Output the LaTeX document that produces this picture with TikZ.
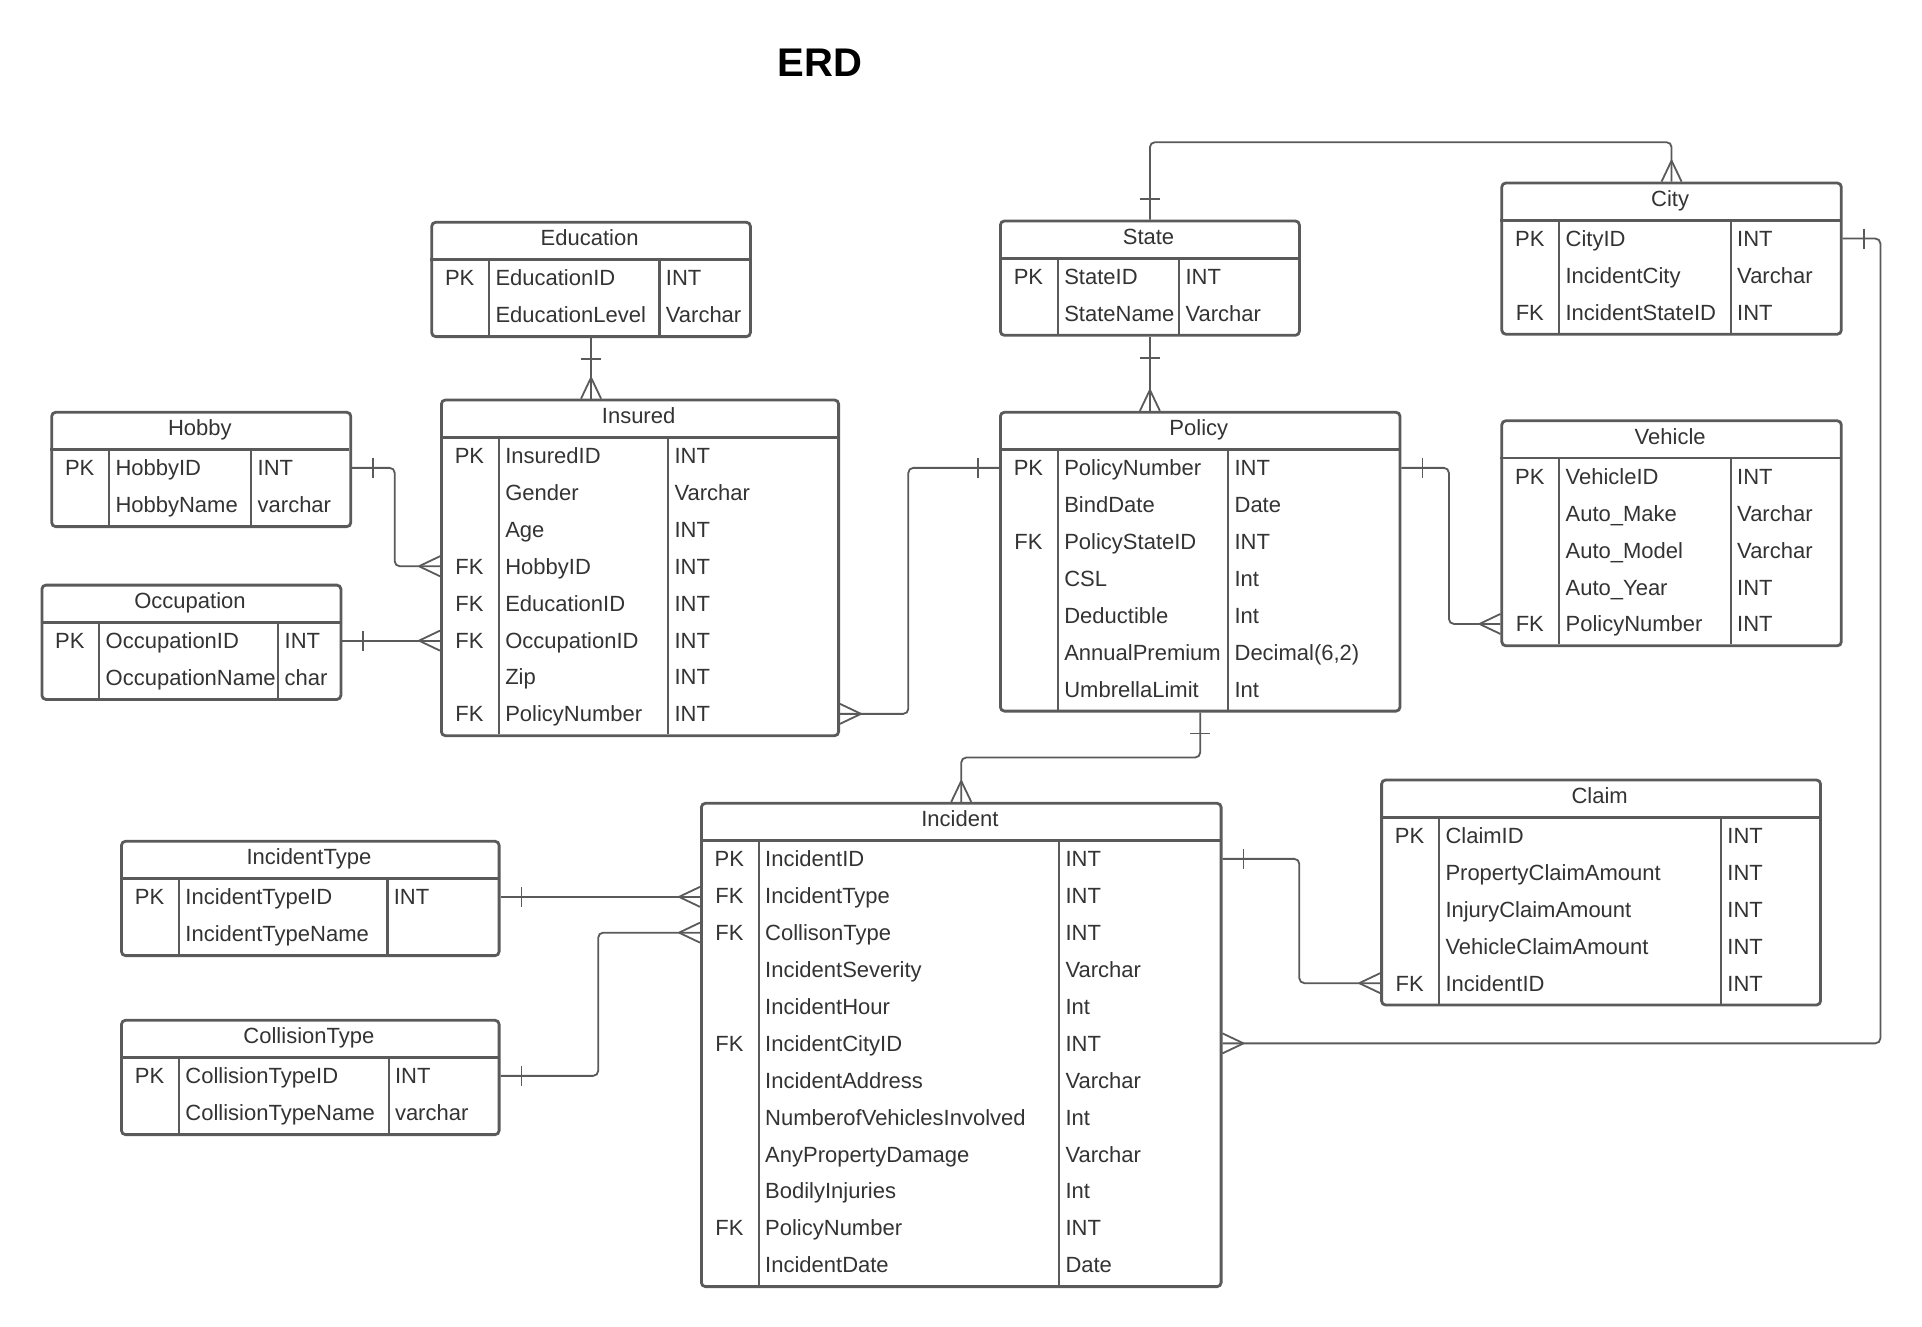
\documentclass[tikz,border=0pt]{standalone}
\usepackage{fontspec}
\setmainfont{Liberation Sans}
\usetikzlibrary{calc}

\definecolor{framecol}{HTML}{5A5A5A}
\definecolor{textcol}{HTML}{333333}

\tikzset{
  tablebox/.style={draw=framecol, line width=1.4pt, rounded corners=2pt, inner sep=0pt},
  headrule/.style={draw=framecol, line width=1.4pt},
  colrule/.style={draw=framecol, line width=1.1pt},
  celltext/.style={inner sep=0pt, text=textcol, font=\fontsize{11}{13}\selectfont,
                   text height=8pt, text depth=0pt},
  link/.style={draw=framecol, line width=0.9pt, rounded corners=2.5pt},
  erdmark/.style={draw=framecol, line width=0.9pt},
  % crow's foot (many) and single bar (one); the line leaves the box along +x
  crow/.pic={\draw[erdmark] (21,0) -- (0,10) (21,0) -- (0,-10);},
  onebar/.pic={\draw[erdmark] (21,-10) -- (21,10);},
}

% #1 name, #2 left, #3 right, #4 top, #5 key|field rule, #6 field|type rule,
% #7 number of rows, #8 title, #9 rows as key/field/type
\newcommand\erdtable[9]{%
  \pgfmathsetmacro\tw{(#3-#2)*0.5}%
  \pgfmathsetmacro\th{(38.5+#7*36.9+2)*0.5}%
  \pgfmathsetmacro\tb{#4+38.5+#7*36.9+2}%
  \node[tablebox, minimum width=\tw pt, minimum height=\th pt, anchor=north west] (#1) at (#2,#4) {};
  \node[celltext, anchor=base] (#1-title) at ({(#2+#3)/2},#4+25) {#8};
  \draw[headrule] (#2,#4+38.5) -- (#3,#4+38.5);
  \draw[colrule] (#5,#4+38.5) -- (#5,\tb);
  \draw[colrule] (#6,#4+38.5) -- (#6,\tb);
  \foreach \k/\f/\t [count=\i] in {#9} {
    \pgfmathsetmacro\yy{#4+38.5+(\i-0.5)*36.9+8}
    \node[celltext, anchor=base] (#1-k\i) at ({(#2+#5)/2},\yy) {\k};
    \node[celltext, anchor=base west] (#1-\i) at (#5+6,\yy) {\f};
    \node[celltext, anchor=base west] (#1-t\i) at (#6+6,\yy) {\t};
  }%
}

\begin{document}
\begin{tikzpicture}[x=0.5pt, y=-0.5pt]
\fill[white] (0,0) rectangle (1922,1327);
\useasboundingbox (0,0) rectangle (1922,1327);

\node[font=\fontsize{20}{24}\selectfont\bfseries, text=black, anchor=base, inner sep=0pt] (title) at (820,77) {ERD};

% ---- tables ----
\erdtable{education}{430.3}{749}{220.9}{489.1}{659.5}{2}{Education}
  {PK/EducationID/INT, /EducationLevel/Varchar}
\erdtable{state}{999}{1298}{219.6}{1057.9}{1179.2}{2}{State}
  {PK/StateID/INT, /StateName/Varchar}
\erdtable{city}{1500.4}{1839.9}{181.6}{1559.2}{1730.8}{3}{City}
  {PK/CityID/INT, /IncidentCity/Varchar, FK/IncidentStateID/INT}
\erdtable{hobby}{50.3}{349.4}{410.9}{109.1}{251.3}{2}{Hobby}
  {PK/HobbyID/INT, /HobbyName/varchar}
\erdtable{insured}{440}{837.2}{398.6}{498.9}{668.1}{8}{Insured}
  {PK/InsuredID/INT, /Gender/Varchar, /Age/INT, FK/HobbyID/INT, FK/EducationID/INT,
   FK/OccupationID/INT, /Zip/INT, FK/PolicyNumber/INT}
\erdtable{policy}{999}{1398.6}{410.9}{1057.9}{1228.2}{7}{Policy}
  {PK/PolicyNumber/INT, /BindDate/Date, FK/PolicyStateID/INT, /CSL/Int, /Deductible/Int,
   /AnnualPremium/{Decimal(6,2)}, /UmbrellaLimit/Int}
\erdtable{vehicle}{1500.4}{1839.9}{419.4}{1559.2}{1730.8}{5}{Vehicle}
  {PK/VehicleID/INT, /Auto\_Make/Varchar, /Auto\_Model/Varchar, /Auto\_Year/INT, FK/PolicyNumber/INT}
\erdtable{occupation}{40.5}{339.5}{583.7}{99.3}{278.3}{2}{Occupation}
  {PK/OccupationID/INT, /OccupationName/char}
\erdtable{incidenttype}{120.1}{497.7}{839.9}{179}{387.4}{2}{IncidentType}
  {PK/IncidentTypeID/INT, /IncidentTypeName/}
\erdtable{collisiontype}{120.1}{497.7}{1018.9}{179}{388.6}{2}{CollisionType}
  {PK/CollisionTypeID/INT, /CollisionTypeName/varchar}
\erdtable{incident}{700}{1219.7}{801.9}{758.8}{1059.1}{12}{Incident}
  {PK/IncidentID/INT, FK/IncidentType/INT, FK/CollisonType/INT, /IncidentSeverity/Varchar,
   /IncidentHour/Int, FK/IncidentCityID/INT, /IncidentAddress/Varchar,
   /NumberofVehiclesInvolved/Int, /AnyPropertyDamage/Varchar, /BodilyInjuries/Int,
   FK/PolicyNumber/INT, /IncidentDate/Date}
\erdtable{claim}{1380.2}{1819.1}{778.6}{1439.1}{1721}{5}{Claim}
  {PK/ClaimID/INT, /PropertyClaimAmount/INT, /InjuryClaimAmount/INT,
   /VehicleClaimAmount/INT, FK/IncidentID/INT}

% ---- relationships ----
\coordinate (statecity) at (0,142.2);
\coordinate (hobbyjog) at (394.7,0);
\coordinate (policyjog) at (908.3,0);
\coordinate (vehiclejog) at (1448.9,0);
\coordinate (polinc) at (0,757.5);
\coordinate (claimjog) at (1299.3,0);
\coordinate (cityjog) at (1880.4,0);
\coordinate (colljog) at (598.2,0);

% Education 1 -- many Insured
\draw[link] (education.south) -- (education.south |- insured.north);
\pic[rotate=-90] at (education.south) {onebar};
\pic[rotate=90] at (education.south |- insured.north) {crow};

% State 1 -- many Policy
\draw[link] (state.south) -- (state.south |- policy.north);
\pic[rotate=-90] at (state.south) {onebar};
\pic[rotate=90] at (state.south |- policy.north) {crow};

% State 1 -- many City
\draw[link] (state.north) |- (statecity -| city.north) -- (city.north);
\pic[rotate=90] at (state.north) {onebar};
\pic[rotate=90] at (city.north) {crow};

% Hobby 1 -- many Insured
\draw[link] (hobby.east |- hobby-1) -| (hobbyjog |- insured-4) -- (insured.west |- insured-4);
\pic at (hobby.east |- hobby-1) {onebar};
\pic[rotate=180] at (insured.west |- insured-4) {crow};

% Occupation 1 -- many Insured
\draw[link] (occupation.east |- occupation-1) -- (occupation-1 -| insured.west);
\pic at (occupation.east |- occupation-1) {onebar};
\pic[rotate=180] at (occupation-1 -| insured.west) {crow};

% Policy 1 -- many Insured
\draw[link] (policy.west |- policy-1) -| (policyjog |- insured-8) -- (insured.east |- insured-8);
\pic[rotate=180] at (policy.west |- policy-1) {onebar};
\pic at (insured.east |- insured-8) {crow};

% Policy 1 -- many Vehicle
\draw[link] (policy.east |- policy-1) -| (vehiclejog |- vehicle-5) -- (vehicle.west |- vehicle-5);
\pic at (policy.east |- policy-1) {onebar};
\pic[rotate=180] at (vehicle.west |- vehicle-5) {crow};

% Policy 1 -- many Incident
\draw[link] (policy.south) |- (polinc -| incident.north) -- (incident.north);
\pic[rotate=-90] at (policy.south) {onebar};
\pic[rotate=90] at (incident.north) {crow};

% Incident 1 -- many Claim
\draw[link] (incident.east |- incident-1) -| (claimjog |- claim-5) -- (claim.west |- claim-5);
\pic at (incident.east |- incident-1) {onebar};
\pic[rotate=180] at (claim.west |- claim-5) {crow};

% City 1 -- many Incident
\draw[link] (city.east |- city-1) -| (cityjog |- incident-6) -- (incident.east |- incident-6);
\pic at (city.east |- city-1) {onebar};
\pic at (incident.east |- incident-6) {crow};

% IncidentType 1 -- many Incident
\draw[link] (incidenttype.east |- incidenttype-1) -- (incidenttype-1 -| incident.west);
\pic at (incidenttype.east |- incidenttype-1) {onebar};
\pic[rotate=180] at (incidenttype-1 -| incident.west) {crow};

% CollisionType 1 -- many Incident
\draw[link] (collisiontype.east |- collisiontype-1) -| (colljog |- incident-3) -- (incident.west |- incident-3);
\pic at (collisiontype.east |- collisiontype-1) {onebar};
\pic[rotate=180] at (incident.west |- incident-3) {crow};

\end{tikzpicture}
\end{document}
